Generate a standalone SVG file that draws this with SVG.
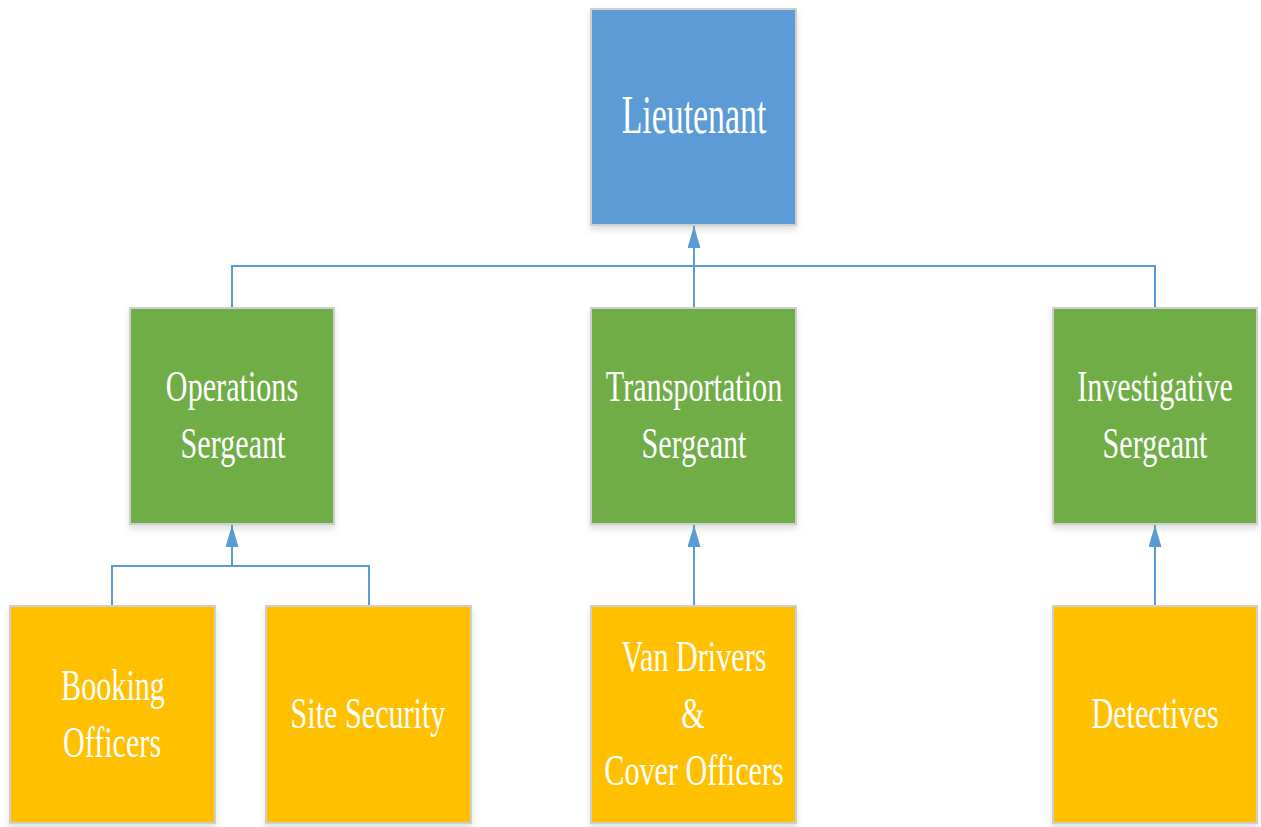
<svg xmlns="http://www.w3.org/2000/svg" width="1261" height="827" viewBox="0 0 1261 827">
<style>
.box{stroke:#cfcfcf;stroke-width:2;filter:url(#sh)}
.blue{fill:#5B9BD5}.green{fill:#70AD47}.orange{fill:#FFC000}
.t{font-family:"Liberation Serif","Times New Roman",serif;fill:#fff;text-anchor:middle;font-size:45px}
.big{font-size:55px}
.c{fill:none;stroke:#5B9BD5;stroke-width:2}
</style>
<defs>
<filter id="sh" x="-10%" y="-10%" width="120%" height="125%">
<feDropShadow dx="0" dy="4" stdDeviation="3" flood-color="#7a8a6a" flood-opacity="0.25"/>
</filter>
<marker id="arr" markerWidth="22" markerHeight="13" refX="22" refY="6.5" viewBox="0 0 22 13" orient="auto" markerUnits="userSpaceOnUse">
<path d="M0,0 L22,6.5 L0,13 Z" fill="#5B9BD5"/>
</marker>
</defs>
<g id="connectors">
<path class="c" d="M232,308 V266 H1155 V308"/>
<path class="c" d="M694,308 V226" marker-end="url(#arr)"/>
<path class="c" d="M112,606 V566 H369 V606"/>
<path class="c" d="M232,566 V525" marker-end="url(#arr)"/>
<path class="c" d="M694,606 V525" marker-end="url(#arr)"/>
<path class="c" d="M1155,606 V525" marker-end="url(#arr)"/>
</g>
<g id="lieutenant">
<rect class="box blue" x="591" y="9" width="205" height="216"/>
<text class="t big" transform="translate(694,133) scale(0.615,1)">Lieutenant</text>
</g>
<g id="operations">
<rect class="box green" x="130" y="308" width="204" height="216"/>
<text class="t" transform="translate(232,401) scale(0.67,1)">Operations</text>
<text class="t" transform="translate(233,458) scale(0.67,1)">Sergeant</text>
</g>
<g id="transportation">
<rect class="box green" x="591" y="308" width="205" height="216"/>
<text class="t" transform="translate(694,401) scale(0.67,1)">Transportation</text>
<text class="t" transform="translate(694,458) scale(0.67,1)">Sergeant</text>
</g>
<g id="investigative">
<rect class="box green" x="1053" y="308" width="204" height="216"/>
<text class="t" transform="translate(1155,401) scale(0.67,1)">Investigative</text>
<text class="t" transform="translate(1155,458) scale(0.67,1)">Sergeant</text>
</g>
<g id="booking">
<rect class="box orange" x="10" y="606" width="205" height="217"/>
<text class="t" transform="translate(113,700) scale(0.67,1)">Booking</text>
<text class="t" transform="translate(112,757) scale(0.67,1)">Officers</text>
</g>
<g id="site-security">
<rect class="box orange" x="266" y="606" width="205" height="217"/>
<text class="t" transform="translate(368,728) scale(0.67,1)">Site Security</text>
</g>
<g id="van-drivers">
<rect class="box orange" x="591" y="606" width="205" height="217"/>
<text class="t" transform="translate(694,671) scale(0.67,1)">Van Drivers</text>
<text class="t" transform="translate(693,728) scale(0.67,1)">&amp;</text>
<text class="t" transform="translate(694,785) scale(0.67,1)">Cover Officers</text>
</g>
<g id="detectives">
<rect class="box orange" x="1053" y="606" width="204" height="217"/>
<text class="t" transform="translate(1155,728) scale(0.67,1)">Detectives</text>
</g>
</svg>
